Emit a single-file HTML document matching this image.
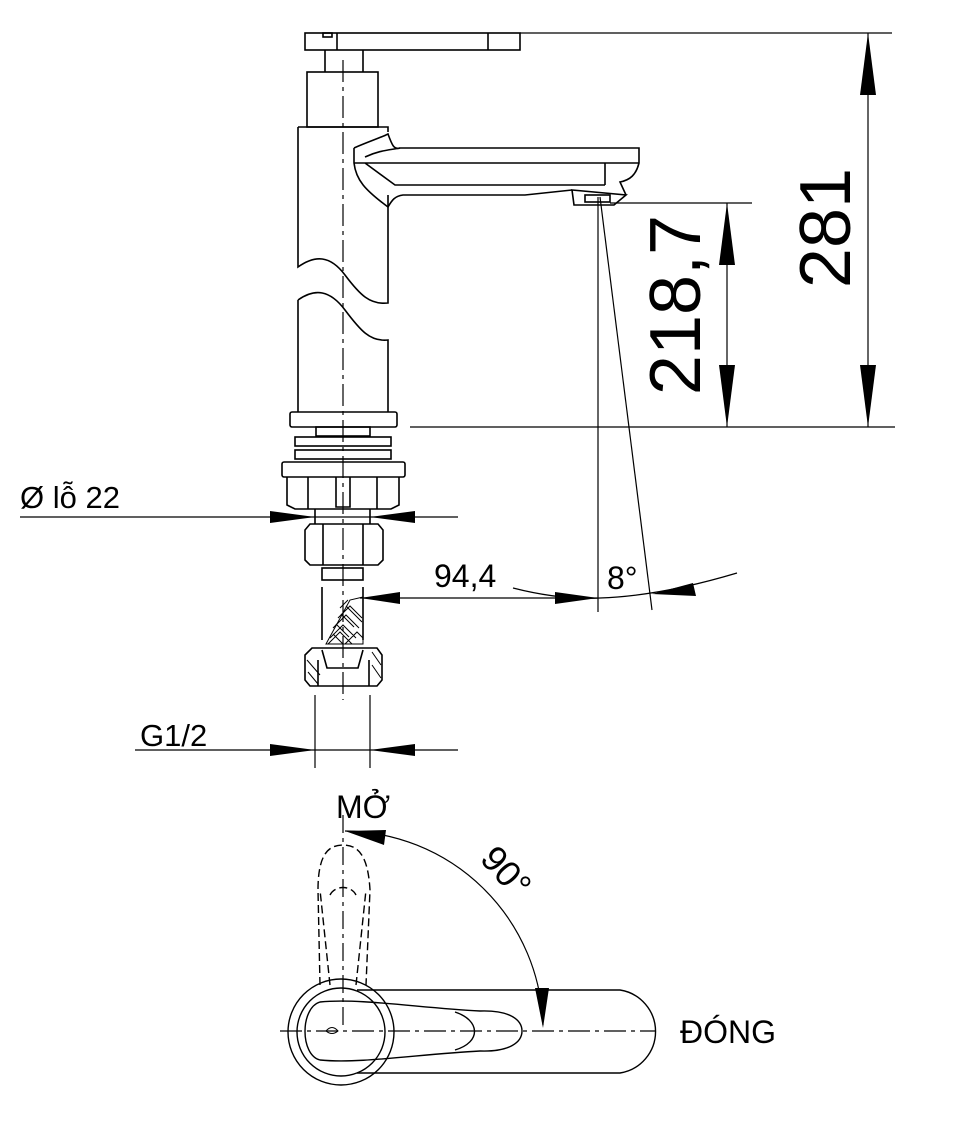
<!DOCTYPE html>
<html><head><meta charset="utf-8"><style>html,body{margin:0;padding:0;background:#fff}svg{display:block}</style></head><body>
<svg width="954" height="1140" viewBox="0 0 954 1140" xmlns="http://www.w3.org/2000/svg" font-family="Liberation Sans, sans-serif">
<g fill="none" stroke="#000" stroke-width="1.6">
<rect x="305" y="33" width="215" height="17"/>
<line x1="337" y1="33" x2="337" y2="50"/><line x1="488" y1="33" x2="488" y2="50"/>
<rect x="323" y="33" width="9" height="4"/>
<line x1="520" y1="33" x2="892" y2="33" stroke-width="1.2"/>
<path d="M325 50 L325 72 M363 50 L363 72"/>
<rect x="307" y="72" width="71" height="55"/>
<path d="M298 127 L298 267 C315 255 330 255 345 275 C360 295 370 305 388 303 L388 195 M298 127 L388 127 L388 132"/>
<path d="M298 300 C315 288 330 290 345 310 C360 330 370 342 388 340 L388 412 M298 300 L298 412"/>
<path d="M354 148 C370 141 380 138 388 134 C392 145 394 150 400 148 L639 148 L639 163 C636 175 630 180 620 182 L626 195 M354 148 L354 163 C356 180 365 190 388 207 C392 200 395 196 403 195 L525 195 L572 190 M354 163 L639 163 M365 163 L395 185 L605 185 M605 163 L605 185"/>
<path d="M365 157 C380 150 390 150 400 148"/>
<path d="M572 190 L574 205 L614 205 L626 195 Z"/>
<rect x="585" y="195" width="25" height="7"/>
<rect x="290" y="412" width="107" height="15" rx="2"/>
<rect x="316" y="427" width="54" height="9"/>
<rect x="295" y="437" width="96" height="9"/>
<rect x="295" y="450" width="96" height="9"/>
<rect x="282" y="462" width="123" height="15" rx="2"/>
<path d="M287 477 L287 505 L295 509 L391 509 L399 505 L399 477 M308 477 L308 509 M377 477 L377 509 M336 477 L336 507 L350 507 L350 477"/>
<path d="M315 509 L315 524 M370 509 L370 524"/>
<path d="M310 524 L378 524 L383 530 L383 560 L378 565 L310 565 L305 560 L305 530 Z M323 524 L323 565 M363 524 L363 565"/>
<rect x="322" y="568" width="41" height="12"/>
<path d="M322 587 L322 640 M363 587 L363 640"/>
<path d="M326 644 L350 600 L363 597 L363 644 Z" stroke-width="1"/>
<path d="M330 638 L343 625 L356 638 M333 628 L346 615 L359 628 M338 618 L350 606 L362 618 M340 608 L348 600 M328 644 L340 632 L352 644 M345 644 L357 632 L363 638" stroke-width="1"/>
<path d="M333 634 L343 644 M336 624 L349 637 M341 614 L354 627 M346 606 L362 622" stroke-width="1"/>
<path d="M312 648 L377 648 L382 655 L382 680 L377 686 L310 686 L305 680 L305 655 Z M322 650 L327 668 L358 668 L363 650 M318 660 L318 686 M369 660 L369 686"/>
<path d="M307 660 L320 675 M308 672 L318 684 M372 652 L381 665 M372 665 L381 678" stroke-width="1"/>
<line x1="343" y1="60" x2="343" y2="700" stroke-dasharray="22,5,4,5" stroke-width="1.2"/>
<line x1="315" y1="695" x2="315" y2="768" stroke-width="1.2"/>
<line x1="370" y1="695" x2="370" y2="768" stroke-width="1.2"/>
</g>
<g stroke="#000" stroke-width="1.2" fill="none">
<line x1="868" y1="33" x2="868" y2="427"/>
<line x1="410" y1="427" x2="895" y2="427"/>
<line x1="610" y1="203" x2="752" y2="203"/>
<line x1="727" y1="203" x2="727" y2="427"/>
<line x1="598" y1="197" x2="598" y2="612"/>
<line x1="600" y1="197" x2="652" y2="610"/>
<line x1="360" y1="598" x2="598" y2="598"/>
<path d="M513 588 Q560 600 600 598 Q660 596 737 573"/>
<line x1="20" y1="517" x2="458" y2="517"/>
<line x1="135" y1="750" x2="458" y2="750"/>
<line x1="343" y1="815" x2="343" y2="1030" stroke-dasharray="18,5,4,5"/>
<line x1="280" y1="1031" x2="655" y2="1031" stroke-dasharray="22,5,4,5"/>
<path d="M345 831 A200 200 0 0 1 543 1025"/>
</g>
<g fill="#000">
<polygon points="868,33 860,95 876,95"/><polygon points="868,427 860,365 876,365"/>
<polygon points="727,203 719,265 735,265"/><polygon points="727,427 719,365 735,365"/>
<polygon points="598,598 555,592 555,604"/><polygon points="360,598 400,592 400,604"/>
<polygon points="652,594 693,583 696,596"/>
<polygon points="315,517 270,511 270,523"/><polygon points="370,517 415,511 415,523"/>
<polygon points="315,750 270,744 270,756"/><polygon points="370,750 415,744 415,756"/>
<polygon points="345,831 386,830 384,845"/><polygon points="543,1028 535,988 549,988"/>
</g>
<g fill="none" stroke="#000" stroke-width="1.4">
<circle cx="341" cy="1032" r="53"/>
<circle cx="341" cy="1032" r="44"/>
<path d="M357 990 L620 990 A42 42 0 0 1 620 1073 L357 1073"/>
<path d="M320 1002 C360 998 420 1008 480 1011 C510 1010 522 1020 522 1031 C522 1042 510 1052 480 1051 C420 1054 360 1064 320 1060 C300 1055 300 1008 320 1002 Z"/>
<path d="M455 1012 C480 1020 482 1042 455 1050"/>
<path d="M326 1031 Q332 1024 338 1031 Q332 1036 326 1031Z" stroke-width="1"/>
<g stroke-dasharray="8,4">
<path d="M320 985 L318 890 C318 855 328 845 343 845 C358 845 368 855 370 890 L366 985"/>
<path d="M330 985 L320 890 M356 985 L366 890 M330 895 C335 885 351 885 356 895"/>
</g>
</g>
<g fill="#000" font-size="31">
<text x="20" y="508">Ø lỗ 22</text>
<text x="140" y="746">G1/2</text>
<text x="434" y="587" font-size="32">94,4</text>
<text x="607" y="589" font-size="32">8°</text>
<text x="336" y="818" font-size="32">MỞ</text>
<text x="680" y="1043" font-size="32">ĐÓNG</text>
<text transform="translate(850,228) rotate(-90)" text-anchor="middle" font-size="72">281</text>
<text transform="translate(700,305) rotate(-90)" text-anchor="middle" font-size="72">218,7</text>
<text transform="translate(497,880) rotate(48)" text-anchor="middle" font-size="36">90°</text>
</g>
</svg>
</body></html>
